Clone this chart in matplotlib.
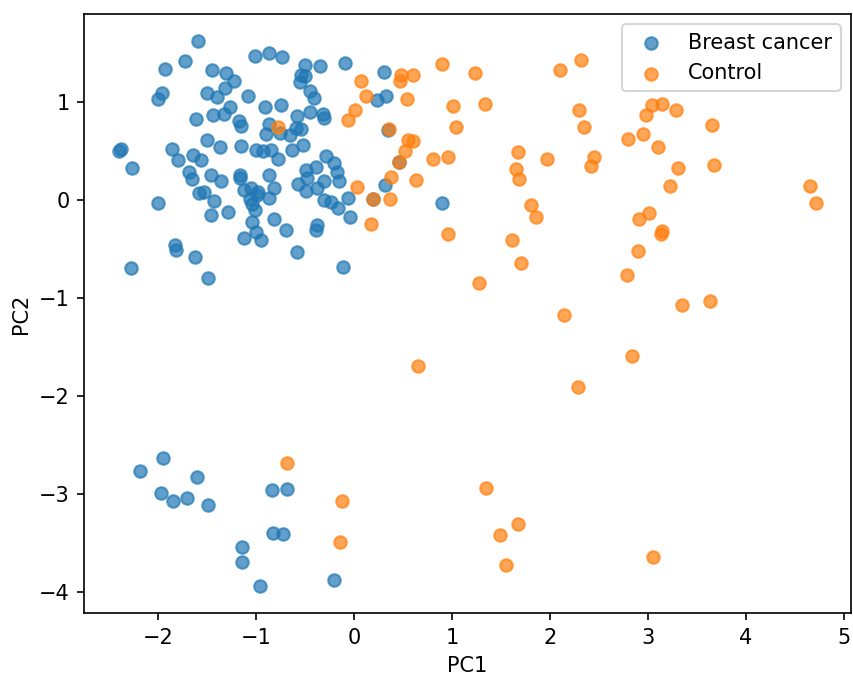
import matplotlib
matplotlib.use("Agg")
import matplotlib.pyplot as plt
import numpy as np

# PCA scores
cancer_pc1 = [-1.59, -1.73, -1.93, -1.45, -1.31, -1.23, -1.32, -1.50, -1.40, -1.08,
              -1.96, -2.00, -1.01, -0.87, -0.74, -0.91, -0.75, -1.27, -1.33, -1.44,
              -1.61, -1.18, -1.15, -0.87, -0.90, -1.50, -1.37, -1.15, -1.00, -0.93,
              -0.85, -0.78, -1.86, -1.65, -1.56, -1.80, -2.38, -2.40, -2.27, -1.69,
              -1.66, -1.46, -1.36, -1.17, -1.17, -0.87, -0.82, -1.12, -1.05, -0.98,
              -0.99, -1.06, -1.04, -0.87, -1.01, -1.29, -1.58, -1.53, -1.43, -2.00,
              -1.46, -1.04, -0.82, -0.70, -1.00, -1.12, -0.95, -1.83, -1.82, -1.63,
              -2.28, -1.49, -0.50, -0.35, -0.09, -0.54, -0.50, -0.55, -0.45, -0.41,
              -0.58, -0.45, -0.32, -0.31, -0.76, -0.65, -0.59, -0.54, -0.63, -0.52,
              -0.29, -0.21, -0.39, -0.49, -0.17, -0.15, -0.48, -0.57, -0.49, -0.38,
              -0.31, -0.31, -0.24, -0.16, -0.06, -0.04, -0.38, -0.39, -0.58, -0.11,
              0.31, 0.23, 0.33, 0.35, 0.32, 0.19, 0.90, 0.46,
              -2.19, -1.95, -1.97, -1.85, -1.71, -1.60, -1.49, -0.84, -0.69, -0.83,
              -0.73, -1.14, -1.14, -0.96, -0.21]
cancer_pc2 = [1.62, 1.42, 1.34, 1.33, 1.30, 1.21, 1.14, 1.09, 1.05, 1.06,
              1.09, 1.03, 1.47, 1.50, 1.46, 0.95, 0.97, 0.95, 0.88, 0.87,
              0.83, 0.80, 0.75, 0.77, 0.67, 0.61, 0.54, 0.55, 0.51, 0.50,
              0.51, 0.42, 0.52, 0.46, 0.41, 0.41, 0.52, 0.50, 0.33, 0.28,
              0.21, 0.25, 0.19, 0.25, 0.22, 0.25, 0.12, 0.10, 0.12, 0.08,
              0.05, 0.01, -0.04, 0.02, -0.10, -0.12, 0.07, 0.08, -0.01, -0.03,
              -0.15, -0.23, -0.20, -0.31, -0.33, -0.39, -0.41, -0.46, -0.51, -0.58,
              -0.70, -0.80, 1.38, 1.37, 1.40, 1.27, 1.26, 1.20, 1.11, 1.04,
              0.86, 0.90, 0.88, 0.84, 0.68, 0.66, 0.73, 0.72, 0.51, 0.56,
              0.45, 0.38, 0.34, 0.30, 0.28, 0.19, 0.22, 0.16, 0.09, 0.12,
              0.19, 0.00, -0.02, -0.08, 0.02, -0.18, -0.26, -0.31, -0.53, -0.69,
              1.31, 1.02, 1.06, 0.71, 0.15, 0.01, -0.03, 0.39,
              -2.77, -2.64, -2.99, -3.07, -3.04, -2.83, -3.12, -2.96, -2.95, -3.40,
              -3.41, -3.54, -3.70, -3.94, -3.88]

control_pc1 = [-0.78, 0.07, 0.48, 0.60, 0.47, 0.90, 0.12, 0.54, 0.01, -0.06,
               0.36, 1.01, 1.04, 0.55, 0.60, 0.52, 0.81, 0.96, 0.46, 0.03,
               0.19, 0.37, 0.38, 0.63, 0.17, 0.96, 1.24, 2.10, 2.32, 1.34,
               2.30, 2.35, 2.80, 2.95, 2.98, 3.04, 3.15, 3.29, 3.66, 3.10,
               3.31, 3.68, 3.23, 4.66, 4.72, 3.01, 2.91, 3.15, 3.14, 3.35,
               3.64, 2.90, 2.79, 2.84, 2.29, 2.14, 1.67, 1.65, 1.69, 1.97,
               2.45, 2.42, 1.81, 1.86, 1.61, 1.71, 1.28, 0.65, -0.68, -0.12,
               -0.14, 1.35, 1.67, 1.49, 1.55, 3.05]
control_pc2 = [0.74, 1.21, 1.27, 1.27, 1.21, 1.39, 1.06, 1.03, 0.92, 0.82,
               0.72, 0.96, 0.74, 0.61, 0.60, 0.50, 0.42, 0.44, 0.39, 0.13,
               0.01, 0.01, 0.23, 0.20, -0.25, -0.35, 1.30, 1.33, 1.43, 0.98,
               0.92, 0.74, 0.62, 0.67, 0.87, 0.97, 0.98, 0.92, 0.76, 0.54,
               0.33, 0.36, 0.14, 0.14, -0.03, -0.13, -0.20, -0.32, -0.35, -1.07,
               -1.03, -0.52, -0.77, -1.59, -1.91, -1.18, 0.49, 0.32, 0.21, 0.42,
               0.44, 0.35, -0.05, -0.17, -0.41, -0.64, -0.85, -1.70, -2.69, -3.07,
               -3.49, -2.94, -3.31, -3.42, -3.73, -3.65]

fig = plt.figure(figsize=(853 / 150, 680 / 150), dpi=150)
ax = fig.add_axes([0.0988, 0.0985, 0.8988, 0.881])

ax.scatter(cancer_pc1, cancer_pc2, alpha=0.7, label='Breast cancer')
ax.scatter(control_pc1, control_pc2, alpha=0.7, label='Control')

ax.set_xlabel('PC1')
ax.set_ylabel('PC2')
ax.legend(loc='upper right')

fig.savefig('out.png', dpi=150)
